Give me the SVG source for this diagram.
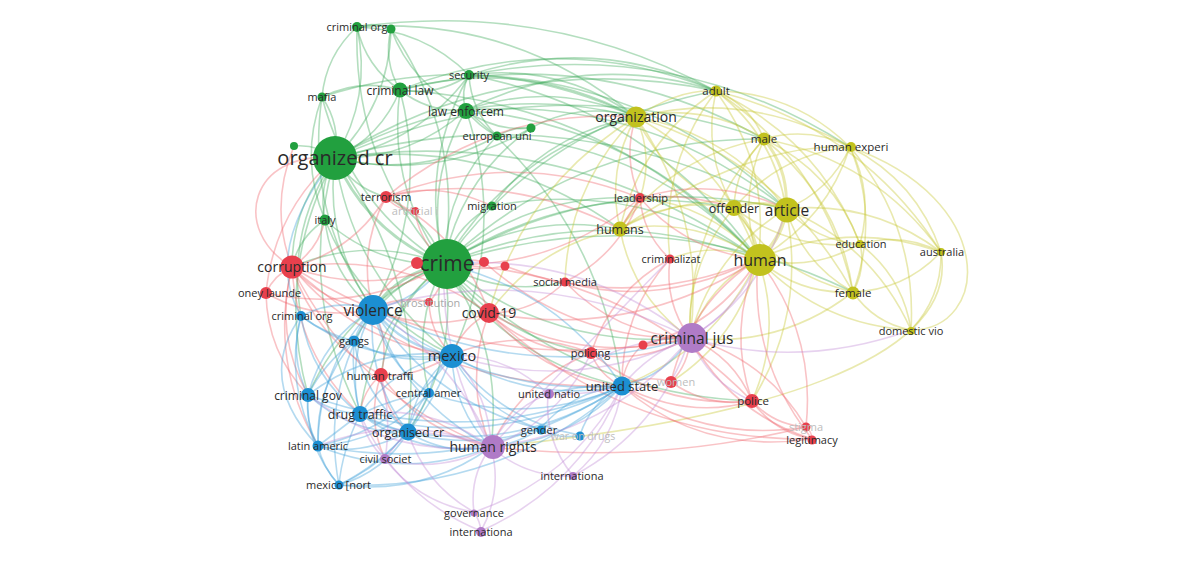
<svg xmlns="http://www.w3.org/2000/svg" width="1200" height="563" viewBox="0 0 1200 563">
<style>
.e{fill:none;stroke-width:1.6;stroke-opacity:.38;stroke-linecap:round}
.eg{stroke:#3aa856}.ey{stroke:#c6c42c}.er{stroke:#ee6068}.eb{stroke:#3a9fd8}.ep{stroke:#bf8ad5}
.cg{fill:#22a03f}.cy{fill:#c2c21e}.cr{fill:#e8404d}.cb{fill:#1c8fd2}.cp{fill:#b07bc7}
text{font-family:"Open Sans","Liberation Sans",sans-serif;fill:#2a2a2a;text-anchor:middle}
text.f{fill:#bdbdbd}
</style>
<rect width="1200" height="563" fill="#ffffff"/>
<g id="connectors">
<g class="e eg">
<path d="M335 158Q372 97 357 27"/><path d="M335 158Q389 105 391 29"/><path d="M335 158Q381 137 400 90"/><path d="M335 158Q341 125 322 97"/><path d="M335 158Q317 144 294 146"/><path d="M335 158Q318 187 325 220"/><path d="M335 158Q368 233 444 264" stroke-width="3"/><path d="M335 158Q419 143 469 75"/><path d="M335 158Q410 160 466 110"/><path d="M335 158Q420 179 497 136"/><path d="M335 158Q439 182 531 128"/><path d="M335 158Q324 241 373 309"/><path d="M335 158Q292 204 292 267"/><path d="M335 158Q354 280 452 355"/><path d="M335 158Q477 77 636 117"/><path d="M335 158Q567 124 758 259"/><path d="M335 158Q571 93 786 209"/><path d="M335 158Q512 48 716 91"/><path d="M335 158Q353 188 386 197"/><path d="M335 158Q286 230 301 316"/><path d="M335 158Q296 291 360 414"/><path d="M335 158Q274 271 308 395"/><path d="M335 158Q426 280 408 432"/>
<path d="M357 27Q374 21 391 29"/><path d="M357 27Q326 55 322 97"/><path d="M357 27Q366 67 400 90"/><path d="M391 29Q412 85 466 110"/><path d="M391 29Q465 136 444 264"/><path d="M357 27Q353 163 444 264"/>
<path d="M400 90Q387 186 444 264"/><path d="M400 90Q360 78 322 97"/><path d="M400 90Q438 96 469 75"/><path d="M400 90Q429 113 466 110"/><path d="M400 90Q523 56 636 117"/><path d="M400 90Q613 103 758 259"/>
<path d="M469 75Q460 92 466 110"/><path d="M469 75Q471 111 497 136"/><path d="M469 75Q419 165 444 264"/><path d="M469 75Q654 79 786 209"/><path d="M469 75Q561 63 636 117"/>
<path d="M466 110Q478 126 497 136"/><path d="M466 110Q424 183 444 264"/><path d="M466 110Q495 132 531 128"/><path d="M466 110Q508 235 452 355"/><path d="M466 110Q552 80 636 117"/><path d="M466 110Q642 126 758 259"/><path d="M466 110Q599 217 622 386"/>
<path d="M497 136Q515 126 531 128"/><path d="M497 136Q445 189 444 264"/><path d="M531 128Q460 179 444 264"/><path d="M531 128Q581 101 636 117"/>
<path d="M322 97Q299 159 325 220"/><path d="M322 97Q350 205 444 264"/><path d="M325 220Q376 266 444 264"/><path d="M325 220Q331 274 373 309"/><path d="M325 220Q299 237 292 267"/>
<path d="M492 206Q456 225 444 264"/><path d="M492 206Q636 179 758 259"/><path d="M492 206Q546 133 636 117"/>
<path d="M444 264Q400 272 373 309" stroke-width="3"/><path d="M444 264Q430 311 452 355"/><path d="M444 264Q457 298 489 313"/><path d="M444 264Q600 199 758 259"/><path d="M444 264Q604 168 786 209"/><path d="M444 264Q511 152 636 117"/><path d="M444 264Q525 211 620 229"/><path d="M444 264Q552 350 690 338"/><path d="M444 264Q509 361 622 386"/><path d="M444 264Q372 322 360 414"/><path d="M444 264Q460 355 408 432"/><path d="M444 264Q390 307 381 375"/><path d="M444 264Q504 346 491 447"/><path d="M444 264Q367 235 292 267"/><path d="M444 264Q501 297 565 282"/><path d="M444 264Q578 178 734 208"/><path d="M444 264Q500 338 591 353"/><path d="M444 264Q571 394 752 401"/><path d="M444 264Q529 192 640 198"/><path d="M444 264Q428 219 386 197"/><path d="M444 264Q411 326 429 393"/><path d="M444 264Q384 285 354 341"/><path d="M444 264Q350 302 308 395"/><path d="M444 264Q654 196 853 292"/><path d="M444 264Q545 123 716 91"/><path d="M444 264Q579 138 764 139"/>
<path d="M335 158Q546 63 764 139"/><path d="M400 90Q558 27 716 91"/><path d="M466 110Q646 96 786 209"/><path d="M335 158Q492 137 620 229"/><path d="M357 27Q423 29 469 75"/><path d="M391 29Q383 61 400 90"/><path d="M469 75Q650 109 758 259"/><path d="M497 136Q652 145 758 259"/><path d="M325 220Q362 313 452 355"/><path d="M322 97Q305 213 373 309"/><path d="M400 90Q430 205 373 309"/><path d="M357 27Q549 0 716 91"/><path d="M357 27Q514 16 636 117"/><path d="M469 75Q596 34 716 91"/><path d="M469 75Q674 35 850 147"/><path d="M466 110Q587 50 716 91"/><path d="M322 97Q483 44 636 117"/><path d="M400 90Q592 42 764 139"/>
</g>
<g class="e ey">
<path d="M758 259Q782 240 786 209" stroke-width="4"/><path d="M758 259Q725 164 636 117"/><path d="M758 259Q771 167 716 91"/><path d="M758 259Q737 198 764 139"/><path d="M758 259Q826 221 850 147"/><path d="M758 259Q756 229 734 208" stroke-width="3"/><path d="M758 259Q695 216 620 229"/><path d="M758 259Q812 272 860 244"/><path d="M758 259Q848 219 941 252"/><path d="M758 259Q799 295 853 292"/><path d="M758 259Q820 325 911 330"/><path d="M758 259Q708 285 690 338"/><path d="M758 259Q714 241 670 259"/><path d="M758 259Q711 205 640 198"/>
<path d="M786 209Q729 133 636 117"/><path d="M786 209Q775 136 716 91"/><path d="M786 209Q789 170 764 139" stroke-width="3"/><path d="M786 209Q830 191 850 147"/><path d="M786 209Q760 198 734 208" stroke-width="2.5"/><path d="M786 209Q699 186 620 229"/><path d="M786 209Q816 241 860 244"/><path d="M786 209Q872 200 941 252"/><path d="M786 209Q803 264 853 292"/><path d="M786 209Q873 245 911 330"/><path d="M786 209Q712 254 690 338"/>
<path d="M636 117Q681 88 716 91"/><path d="M636 117Q704 102 764 139"/><path d="M636 117Q749 89 850 147"/><path d="M636 117Q667 182 734 208"/><path d="M636 117Q606 170 620 229"/><path d="M636 117Q654 157 640 198"/><path d="M636 117Q780 161 853 292"/><path d="M636 117Q707 217 690 338"/>
<path d="M716 91Q750 105 764 139"/><path d="M716 91Q794 92 850 147"/><path d="M716 91Q702 153 734 208"/><path d="M716 91Q825 164 853 292"/><path d="M716 91Q861 127 941 252"/><path d="M716 91Q640 141 620 229"/><path d="M716 91Q819 139 860 244"/>
<path d="M764 139Q809 126 850 147"/><path d="M764 139Q735 168 734 208"/><path d="M764 139Q839 198 853 292"/><path d="M764 139Q833 172 860 244"/><path d="M764 139Q875 160 941 252"/><path d="M764 139Q674 155 620 229"/>
<path d="M850 147Q880 220 853 292"/><path d="M850 147Q917 181 941 252"/><path d="M850 147Q874 194 860 244"/><path d="M850 147Q780 154 734 208"/><path d="M850 147Q917 226 911 330"/>
<path d="M734 208Q673 196 620 229"/><path d="M734 208Q777 274 853 292"/><path d="M734 208Q790 251 860 244"/><path d="M734 208Q686 264 690 338"/>
<path d="M853 292Q866 269 860 244"/><path d="M853 292Q905 290 941 252"/><path d="M853 292Q874 323 911 330"/><path d="M860 244Q902 232 941 252"/><path d="M941 252Q942 297 911 330"/><path d="M860 244Q903 277 911 330"/>
<path d="M620 229Q633 298 690 338"/><path d="M620 229Q538 245 489 313"/><path d="M620 229Q633 210 640 198"/>
<path d="M941 252C960 360 760 420 491 447"/><path d="M850 147C1000 200 990 330 911 330"/>
<path d="M758 259Q783 331 752 401"/><path d="M758 259Q739 338 671 382"/><path d="M758 259Q715 350 622 386"/><path d="M786 209Q807 312 752 401"/><path d="M636 117Q568 185 565 282"/><path d="M636 117Q523 186 489 313"/><path d="M764 139Q687 224 690 338"/><path d="M853 292Q781 348 690 338"/><path d="M850 147Q751 142 620 229"/><path d="M716 91Q659 166 670 259"/>
</g>
<g class="e er">
<path d="M292 267Q274 275 266 293"/><path d="M292 267Q324 304 373 309"/><path d="M292 267Q353 251 386 197"/><path d="M292 267Q354 343 452 355"/><path d="M292 267Q315 339 381 375"/><path d="M292 267Q400 251 489 313"/><path d="M292 267Q356 397 491 447"/><path d="M292 267Q433 393 622 386"/><path d="M292 267Q477 382 690 338"/><path d="M292 267Q318 250 325 220"/><path d="M292 267Q297 354 360 414"/><path d="M292 267Q269 207 294 146"/>
<path d="M266 293Q361 314 444 264"/><path d="M266 293Q316 322 373 309"/><path d="M266 293Q267 352 308 395"/>
<path d="M386 197Q398 211 415 211"/><path d="M386 197Q495 107 636 117"/><path d="M386 197Q357 250 373 309"/><path d="M386 197Q461 234 489 313"/><path d="M386 197Q513 147 640 198"/><path d="M386 197Q505 170 620 229"/>
<path d="M417 263Q430 258 444 264"/><path d="M417 263Q386 277 373 309"/><path d="M484 262Q464 257 444 264"/><path d="M505 266Q475 272 444 264"/><path d="M505 266Q630 313 758 259"/><path d="M484 262Q572 341 690 338"/>
<path d="M429 302Q400 295 373 309"/><path d="M429 302Q445 285 444 264"/><path d="M429 302Q430 333 452 355"/>
<path d="M489 313Q430 334 373 309"/><path d="M489 313Q462 327 452 355"/><path d="M489 313Q634 340 758 259"/><path d="M489 313Q585 366 690 338"/><path d="M489 313Q532 353 591 353"/><path d="M489 313Q533 313 565 282"/><path d="M489 313Q541 376 622 386"/>
<path d="M565 282Q657 309 758 259"/><path d="M565 282Q616 335 690 338"/><path d="M565 282Q619 255 640 198"/>
<path d="M640 198Q628 216 620 229"/><path d="M640 198Q622 157 636 117"/><path d="M640 198Q555 270 444 264"/><path d="M640 198Q643 234 670 259"/><path d="M640 198Q687 252 758 259"/><path d="M640 198Q685 192 734 208"/><path d="M640 198Q715 175 786 209"/>
<path d="M670 259Q664 302 690 338"/><path d="M670 259Q621 313 622 386"/><path d="M670 259Q612 290 591 353"/>
<path d="M591 353Q637 365 690 338"/><path d="M591 353Q600 376 622 386"/><path d="M591 353Q662 409 752 401"/><path d="M591 353Q521 326 452 355"/>
<path d="M643 345Q664 336 690 338"/><path d="M643 345Q624 361 622 386"/><path d="M643 345Q718 325 758 259"/>
<path d="M671 382Q689 364 690 338"/><path d="M671 382Q646 374 622 386"/><path d="M671 382Q708 408 752 401"/><path d="M671 382Q690 303 758 259"/>
<path d="M752 401Q734 357 690 338"/><path d="M752 401Q774 425 806 427"/><path d="M752 401Q774 432 812 439"/><path d="M752 401Q727 329 758 259"/><path d="M752 401Q690 420 622 386"/><path d="M752 401Q625 271 444 264"/>
<path d="M806 427Q812 432 812 439"/><path d="M806 427Q766 359 690 338"/><path d="M812 439Q731 413 690 338"/><path d="M806 427Q816 333 758 259"/><path d="M812 439Q749 360 758 259"/><path d="M806 427Q706 443 622 386"/><path d="M812 439Q700 455 622 386"/><path d="M806 427Q652 465 491 447"/><path d="M812 439Q625 441 489 313"/>
<path d="M381 375Q390 340 373 309"/><path d="M381 375Q412 379 452 355"/><path d="M381 375Q363 390 360 414"/><path d="M381 375Q422 433 491 447"/><path d="M381 375Q383 409 408 432"/><path d="M381 375Q366 418 385 459"/>
<path d="M266 293Q274 212 335 158"/><path d="M292 267Q274 334 308 395"/><path d="M292 267Q369 296 444 264"/><path d="M415 211Q419 240 444 264"/><path d="M386 197Q437 180 492 206"/><path d="M292 267Q269 362 318 446"/><path d="M489 313Q463 380 491 447"/><path d="M591 353Q522 380 491 447"/><path d="M292 267C230 230 250 150 335 158"/>
</g>
<g class="e eb">
<path d="M373 309Q336 298 301 316"/><path d="M373 309Q360 323 354 341"/><path d="M373 309Q403 348 452 355" stroke-width="2.5"/><path d="M373 309Q323 339 308 395"/><path d="M373 309Q346 359 360 414"/><path d="M373 309Q384 362 429 393"/><path d="M373 309Q366 378 408 432"/><path d="M373 309Q318 367 318 446"/><path d="M373 309Q321 390 339 485"/><path d="M373 309Q482 397 622 386"/><path d="M373 309Q404 402 491 447"/><path d="M373 309Q526 387 690 338"/><path d="M373 309Q418 301 444 264"/>
<path d="M301 316Q325 334 354 341"/><path d="M301 316Q289 357 308 395"/><path d="M301 316Q284 384 318 446"/><path d="M301 316Q311 377 360 414"/>
<path d="M354 341Q400 368 452 355"/><path d="M354 341Q351 380 360 414"/><path d="M354 341Q324 363 308 395"/><path d="M354 341Q315 386 318 446"/>
<path d="M452 355Q434 371 429 393"/><path d="M452 355Q394 366 360 414"/><path d="M452 355Q415 385 408 432"/><path d="M452 355Q531 404 622 386"/><path d="M452 355Q453 409 491 447"/><path d="M452 355Q403 427 318 446"/><path d="M452 355Q421 443 339 485"/><path d="M452 355Q372 346 308 395"/><path d="M452 355Q481 410 540 429"/><path d="M452 355Q500 421 580 435"/>
<path d="M308 395Q330 412 360 414"/><path d="M308 395Q305 422 318 446"/><path d="M308 395Q305 446 339 485"/><path d="M308 395Q351 434 408 432"/>
<path d="M360 414Q382 428 408 432"/><path d="M360 414Q331 436 318 446"/><path d="M360 414Q342 451 339 485"/><path d="M360 414Q397 397 429 393"/><path d="M360 414Q485 452 622 386"/><path d="M360 414Q419 457 491 447"/>
<path d="M429 393Q413 410 408 432"/><path d="M429 393Q384 442 318 446"/><path d="M429 393Q402 457 339 485"/><path d="M429 393Q527 428 622 386"/>
<path d="M408 432Q360 457 318 446"/><path d="M408 432Q384 472 339 485"/><path d="M408 432Q446 456 491 447"/><path d="M408 432Q524 452 622 386"/>
<path d="M318 446Q323 468 339 485"/><path d="M339 485Q500 492 622 386"/><path d="M339 485Q423 496 491 447"/>
<path d="M622 386Q666 376 690 338"/><path d="M622 386Q591 402 580 435"/><path d="M622 386Q572 391 540 429"/><path d="M622 386Q569 443 491 447"/><path d="M622 386Q557 289 444 264"/><path d="M622 386Q585 384 548 394"/>
<path d="M540 429Q515 445 491 447"/><path d="M580 435Q560 440 540 429"/><path d="M318 446Q404 481 491 447"/><path d="M318 446Q482 477 622 386"/><path d="M308 395Q467 453 622 386"/><path d="M301 316Q369 366 452 355"/><path d="M354 341Q363 394 408 432"/><path d="M360 414Q447 458 540 429"/><path d="M373 309Q432 402 540 429"/><path d="M301 316Q262 250 335 158"/><path d="M318 446Q255 380 301 316"/>
</g>
<g class="e ep">
<path d="M690 338Q612 432 491 447"/><path d="M690 338Q608 338 548 394"/><path d="M690 338Q650 352 622 386"/><path d="M690 338Q741 307 758 259"/><path d="M690 338Q764 293 786 209"/><path d="M690 338Q708 382 752 401"/><path d="M690 338Q582 252 444 264"/><path d="M690 338Q537 260 373 309"/><path d="M690 338Q574 394 452 355"/><path d="M690 338Q659 430 573 476"/><path d="M690 338Q800 370 911 330"/>
<path d="M491 447Q509 409 548 394"/><path d="M491 447Q440 474 385 459"/><path d="M491 447Q526 478 573 476"/><path d="M491 447Q469 476 474 512"/><path d="M491 447Q503 491 481 531"/><path d="M491 447Q490 395 452 355"/><path d="M491 447Q460 366 373 309"/><path d="M491 447Q452 433 408 432"/><path d="M491 447Q432 404 360 414"/><path d="M491 447Q440 360 444 264"/><path d="M491 447Q600 330 670 259"/><path d="M491 447Q560 420 591 353"/>
<path d="M548 394Q508 355 452 355"/><path d="M548 394Q544 440 573 476"/><path d="M548 394Q586 396 622 386"/>
<path d="M385 459Q399 440 408 432"/><path d="M385 459Q366 442 360 414"/><path d="M385 459Q392 418 381 375"/>
<path d="M474 512Q480 521 481 531"/><path d="M474 512Q419 503 385 459"/><path d="M573 476Q615 441 622 386"/><path d="M491 447Q389 458 308 395"/><path d="M491 447Q404 412 318 446"/><path d="M474 512Q425 485 408 432"/><path d="M481 531Q397 497 360 414"/><path d="M474 512Q573 479 622 386"/><path d="M481 531Q580 487 622 386"/>
</g>
</g>
<g id="nodes" font-size="11">
<g id="n-crime"><circle cx="447" cy="264" r="25" class="cg"/><text x="447" y="271" font-size="21">crime</text></g>
<g id="n-organized-cr"><circle cx="335" cy="158" r="22" class="cg"/><text x="335" y="165" font-size="20">organized cr</text></g>
<g id="n-human"><circle cx="760" cy="260" r="16" class="cy"/><text x="760" y="266" font-size="16">human</text></g>
<g id="n-violence"><circle cx="373" cy="310" r="15" class="cb"/><text x="373" y="315.5" font-size="15.5">violence</text></g>
<g id="n-criminal-jus"><circle cx="692" cy="338" r="15" class="cp"/><text x="692" y="343.5" font-size="15.5">criminal jus</text></g>
<g id="n-article"><circle cx="787" cy="210" r="12.5" class="cy"/><text x="787" y="215.5" font-size="15.5">article</text></g>
<g id="n-human-rights"><circle cx="493" cy="447" r="12" class="cp"/><text x="493" y="452" font-size="14">human rights</text></g>
<g id="n-mexico"><circle cx="452" cy="356" r="12" class="cb"/><text x="452" y="361" font-size="14.5">mexico</text></g>
<g id="n-corruption"><circle cx="292" cy="267" r="11.5" class="cr"/><text x="292" y="272" font-size="14">corruption</text></g>
<g id="n-covid-19"><circle cx="489" cy="313" r="10" class="cr"/><text x="489" y="318" font-size="14">covid-19</text></g>
<g id="n-organization"><circle cx="636" cy="117" r="10.5" class="cy"/><text x="636" y="122" font-size="14">organization</text></g>
<g id="n-women"><circle cx="671" cy="382" r="6" class="cr"/><text class="f" x="676" y="386">women</text></g>
<g id="n-united-state"><circle cx="622" cy="386" r="9.5" class="cb"/><text x="622" y="391" font-size="13">united state</text></g>
<g id="n-drug-traffic"><circle cx="360" cy="414" r="8" class="cb"/><text x="360" y="418.5" font-size="12.5">drug traffic</text></g>
<g id="n-organised-cr"><circle cx="408" cy="432" r="8.5" class="cb"/><text x="408" y="436.5" font-size="12.5">organised cr</text></g>
<g id="n-offender"><circle cx="734" cy="208" r="8" class="cy"/><text x="734" y="212.5" font-size="12.5">offender</text></g>
<g id="n-law-enforcem"><circle cx="466" cy="111" r="8" class="cg"/><text x="466" y="115.5" font-size="12">law enforcem</text></g>
<g id="n-criminal-law"><circle cx="400" cy="90" r="7.5" class="cg"/><text x="400" y="94.5" font-size="12">criminal law</text></g>
<g id="n-humans"><circle cx="620" cy="229" r="7.5" class="cy"/><text x="620" y="233.5" font-size="12.5">humans</text></g>
<g id="n-criminal-gov"><circle cx="308" cy="395" r="7" class="cb"/><text x="308" y="399.5" font-size="12">criminal gov</text></g>
<g id="n-human-traffi"><circle cx="381" cy="375" r="7" class="cr"/><text x="380" y="379.5" font-size="11.5">human traffi</text></g>
<g id="n-police"><circle cx="752" cy="401" r="7" class="cr"/><text x="753" y="405" font-size="11.5">police</text></g>
<g id="n-female"><circle cx="853" cy="293" r="6.5" class="cy"/><text x="853" y="297" font-size="11.5">female</text></g>
<g id="n-male"><circle cx="764" cy="139" r="6.5" class="cy"/><text x="764" y="143" font-size="11.5">male</text></g>
<g id="n-n-red1"><circle cx="417" cy="263" r="6" class="cr"/></g>
<g id="n-money-launde"><circle cx="266" cy="293" r="6" class="cr"/><text x="238" y="297" style="text-anchor:start">oney launde</text></g>
<g id="n-terrorism"><circle cx="386" cy="197" r="6" class="cr"/><text x="386" y="201" font-size="11.5">terrorism</text></g>
<g id="n-policing"><circle cx="591" cy="353" r="6" class="cr"/><text x="590.5" y="357">policing</text></g>
<g id="n-adult"><circle cx="716" cy="91" r="5.5" class="cy"/><text x="716" y="95" font-size="11.5">adult</text></g>
<g id="n-italy"><circle cx="325" cy="220" r="5.5" class="cg"/><text x="325" y="224">italy</text></g>
<g id="n-gangs"><circle cx="354" cy="341" r="5.5" class="cb"/><text x="354" y="345">gangs</text></g>
<g id="n-latin-americ"><circle cx="318" cy="446" r="5.5" class="cb"/><text x="318" y="450">latin americ</text></g>
<g id="n-n-red2"><circle cx="484" cy="262" r="5" class="cr"/></g>
<g id="n-n-red3"><circle cx="505" cy="266" r="4.5" class="cr"/></g>
<g id="n-criminal-org"><circle cx="357" cy="27" r="5" class="cg"/><text x="357" y="31">criminal org</text></g>
<g id="n-n-green1"><circle cx="391" cy="29" r="4.5" class="cg"/></g>
<g id="n-security"><circle cx="469" cy="75" r="5" class="cg"/><text x="469" y="79">security</text></g>
<g id="n-mafia"><circle cx="322" cy="97" r="4.5" class="cg"/><text x="322" y="101">mafia</text></g>
<g id="n-european-uni"><circle cx="497" cy="136" r="4.5" class="cg"/><text x="497" y="140">european uni</text></g>
<g id="n-n-green2"><circle cx="531" cy="128" r="4.5" class="cg"/></g>
<g id="n-n-green3"><circle cx="294" cy="146" r="4" class="cg"/></g>
<g id="n-migration"><circle cx="492" cy="206" r="4.5" class="cg"/><text x="492" y="210">migration</text></g>
<g id="n-human-experi"><circle cx="851" cy="147" r="5" class="cy"/><text x="851" y="151" font-size="11.5">human experi</text></g>
<g id="n-education"><circle cx="860" cy="244" r="4" class="cy"/><text x="861" y="248">education</text></g>
<g id="n-australia"><circle cx="941" cy="252" r="4" class="cy"/><text x="942" y="256">australia</text></g>
<g id="n-domestic-vio"><circle cx="911" cy="331" r="4" class="cy"/><text x="911" y="335">domestic vio</text></g>
<g id="n-artificial-i"><circle cx="415" cy="211" r="4" class="cr"/><text class="f" x="415" y="215">artificial i</text></g>
<g id="n-prostitution"><circle cx="429" cy="302" r="4" class="cr"/><text x="430" y="306.5" style="fill:#a8a8a8">prostitution</text></g>
<g id="n-social-media"><circle cx="565" cy="282" r="4.5" class="cr"/><text x="565" y="286">social media</text></g>
<g id="n-leadership"><circle cx="640" cy="198" r="5" class="cr"/><text x="641" y="202">leadership</text></g>
<g id="n-criminalizat"><circle cx="670" cy="259" r="4.5" class="cr"/><text x="671" y="263">criminalizat</text></g>
<g id="n-n-red4"><circle cx="643" cy="345" r="4.5" class="cr"/></g>
<g id="n-stigma"><circle cx="806" cy="427" r="4.5" class="cr"/><text class="f" x="806" y="431">stigma</text></g>
<g id="n-legitimacy"><circle cx="812" cy="440" r="4.5" class="cr"/><text x="812" y="444">legitimacy</text></g>
<g id="n-criminal-org-2"><circle cx="301" cy="316" r="5" class="cb"/><text x="302" y="320">criminal org</text></g>
<g id="n-central-amer"><circle cx="429" cy="393" r="5" class="cb"/><text x="428.5" y="397">central amer</text></g>
<g id="n-mexico-nort"><circle cx="339" cy="485" r="4.5" class="cb"/><text x="338.5" y="489">mexico [nort</text></g>
<g id="n-gender"><circle cx="541" cy="430" r="4.5" class="cb"/><text x="539" y="433.5">gender</text></g>
<g id="n-war-on-drugs"><circle cx="580" cy="436" r="4.5" class="cb"/><text class="f" x="583" y="439.5" font-size="10.5">war on drugs</text></g>
<g id="n-united-natio"><circle cx="549" cy="394" r="5" class="cp"/><text x="549" y="398">united natio</text></g>
<g id="n-civil-societ"><circle cx="385" cy="459" r="5" class="cp"/><text x="385.5" y="463">civil societ</text></g>
<g id="n-internationa-1"><circle cx="573" cy="476" r="4" class="cp"/><text x="572" y="480">internationa</text></g>
<g id="n-governance"><circle cx="474" cy="513" r="3.5" class="cp"/><text x="474" y="516.5">governance</text></g>
<g id="n-internationa-2"><circle cx="481" cy="532" r="5" class="cp"/><text x="481" y="535.5">internationa</text></g>
</g>
</svg>
